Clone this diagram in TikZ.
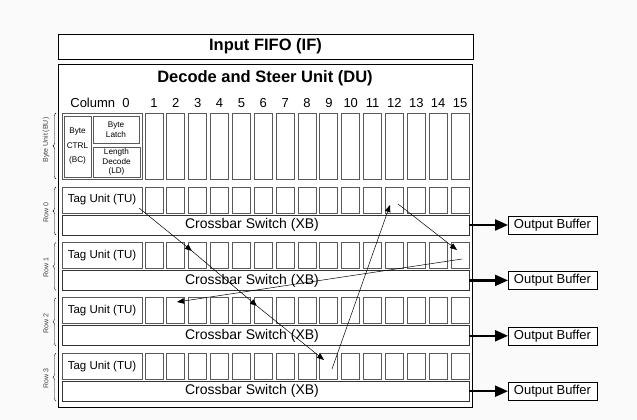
\documentclass[tikz,border=0pt]{standalone}
\usepackage{fontspec}
\setmainfont{Liberation Sans}
\usetikzlibrary{arrows.meta,positioning,calc,decorations.pathreplacing}

\begin{document}
\begin{tikzpicture}[
  x=1pt, y=-1pt,
  box/.style={draw, inner sep=0pt, outer sep=0pt},
  cell/.style={draw=black!65, line width=1pt, inner sep=0pt, outer sep=0pt, minimum width=18pt},
  small/.style={font=\fontsize{8.2}{9.5}\selectfont, align=center, inner sep=0pt},
  rowlbl/.style={rotate=90, font=\fontsize{7}{8}\selectfont, text=black!75},
  hop/.style={-{Triangle[length=7pt,width=5.5pt]}, line width=0.5pt},
  feed/.style={-{Triangle[length=13pt,width=11pt]}, line width=2.2pt}
]
\useasboundingbox[fill=black!2] (0,0) rectangle (637,420);

% FIFO and decode/steer unit
\node[box, fill=white, minimum width=415pt, minimum height=25pt, font=\fontsize{16.5}{18}\selectfont\bfseries] (if) at (265.5,46.5) {Input FIFO (IF)};
\node[box, fill=white, minimum width=414pt, minimum height=343pt] (du) at (265,235.5) {};
\node[font=\fontsize{16.5}{18}\selectfont\bfseries] (title) at (265,78) {Decode and Steer Unit (DU)};

% byte unit
\node[cell, minimum width=80pt, minimum height=66pt] (bu) at (102,146) {};
\node[cell, line width=0.8pt, minimum width=27pt, minimum height=61pt, small] (bc) at (77.5,146.5) {Byte\\[5pt]CTRL\\[5pt](BC)};
\node[cell, line width=0.8pt, minimum width=46pt, minimum height=27pt, small] (bl) at (116,129.5) {Byte\\Latch};
\node[cell, line width=0.8pt, minimum width=47pt, minimum height=30pt, small] (ld) at (116.5,162) {Length\\Decode\\(LD)};
\node[font=\fontsize{13}{14}\selectfont] (col0) at (100,103) {Column\ \ 0};
\foreach \k in {1,...,15} {
  \pgfmathsetmacro\cx{154+(\k-1)*21.86}
  \node[cell, minimum height=66pt] (b\k) at (\cx,146) {};
  \node[font=\fontsize{13}{14}\selectfont] (n\k) at (\cx,103) {\k};
}
\draw[decorate, decoration={brace, amplitude=3pt}] (56,179) -- (56,113);
\node[rowlbl] (bulbl) at (46,140) {Byte Unit (BU)};

% rows
\foreach \r in {0,...,3} {
  \pgfmathsetmacro\yt{200+\r*55.4}
  \pgfmathsetmacro\yb{225+\r*55.4}
  \node[cell, minimum width=80pt, minimum height=26pt, font=\fontsize{11.5}{12}\selectfont] (tu\r) at (102,\yt) {Tag Unit (TU)};
  \foreach \k in {1,...,15} {
    \node[cell, minimum height=26pt] (t\r-\k) at ({154+(\k-1)*21.86},\yt) {};
  }
  \node[box, draw=black!80, line width=0.8pt, minimum width=407pt, minimum height=20pt] (xb\r) at (265.5,\yb) {};
  \node[font=\fontsize{14}{15}\selectfont] (xbl\r) at (252,\yb) {Crossbar Switch (XB)};
  \node[box, fill=white, minimum width=89pt, minimum height=18pt, font=\fontsize{13}{14}\selectfont] (ob\r) at (552.5,\yb) {Output Buffer};
  \draw[feed] (xb\r.east) -- (ob\r.west);
  \draw[decorate, decoration={brace, amplitude=3pt}] (56,{\yb+10}) -- (56,{\yt-13});
  \node[rowlbl] (rl\r) at (46,{(\yt+\yb)/2}) {Row \r};
}

% steering hops
\coordinate (h0) at (139,208);
\coordinate (h1) at (192,251);
\coordinate (h2) at (257,306);
\coordinate (h3) at (324,360);
\coordinate (h4) at (332,369);
\coordinate (h5) at (390,205);
\coordinate (h6) at (398,204);
\coordinate (h7) at (457,250);
\coordinate (h8) at (462,259);
\coordinate (h9) at (177,302);
\draw[hop] (h0) -- (h1);
\draw[hop] (h1) -- (h2);
\draw[hop] (h2) -- (h3);
\draw[hop] (h4) -- (h5);
\draw[hop] (h6) -- (h7);
\draw[hop] (h8) -- (h9);
\end{tikzpicture}
\end{document}
